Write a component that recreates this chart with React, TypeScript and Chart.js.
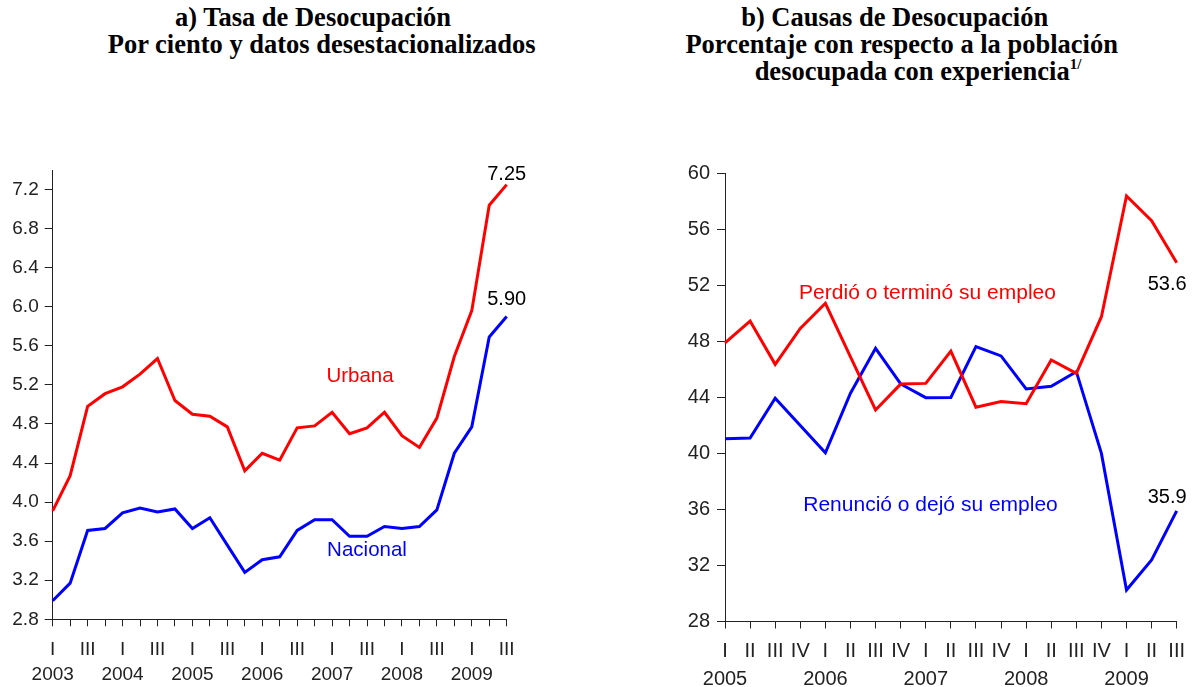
import React, { useEffect, useRef } from 'react';
import { Chart, registerables } from 'chart.js';

Chart.register(...registerables);

// ---------- Data: left chart (Tasa de Desocupación) ----------
const leftYears = ['2003', '2004', '2005', '2006', '2007', '2008', '2009'];
const leftQuarterMarks = ['I', '', 'III', ''];
const urbana = [3.91, 4.27, 4.98, 5.11, 5.18, 5.31, 5.47, 5.04, 4.9, 4.88, 4.77, 4.32, 4.5, 4.43, 4.76, 4.78, 4.92, 4.7, 4.76, 4.92, 4.68, 4.56, 4.86, 5.49, 5.96, 7.04, 7.25];
const nacional = [2.99, 3.17, 3.71, 3.73, 3.89, 3.94, 3.9, 3.93, 3.73, 3.84, 3.56, 3.28, 3.41, 3.44, 3.71, 3.82, 3.82, 3.65, 3.65, 3.75, 3.73, 3.75, 3.92, 4.5, 4.77, 5.69, 5.9];
const leftYTicks = [2.8, 3.2, 3.6, 4.0, 4.4, 4.8, 5.2, 5.6, 6.0, 6.4, 6.8, 7.2];

// ---------- Data: right chart (Causas de Desocupación) ----------
const rightYears = ['2005', '2006', '2007', '2008', '2009'];
const rightQuarterMarks = ['I', 'II', 'III', 'IV'];
const perdio = [47.9, 49.45, 46.36, 48.93, 50.72, 46.9, 43.1, 44.95, 45.0, 47.3, 43.3, 43.7, 43.55, 46.67, 45.72, 49.76, 58.38, 56.62, 53.62];
const renuncio = [41.05, 41.1, 43.94, 42.0, 40.05, 44.3, 47.5, 44.96, 43.98, 44.0, 47.62, 46.96, 44.6, 44.8, 45.84, 40.0, 30.25, 32.4, 35.9];
const rightYTicks = [28, 32, 36, 40, 44, 48, 52, 56, 60];

const RED = '#ff0000';
const BLUE = '#0000ff';
const INK = '#222222';
const SANS = "'Liberation Sans', Arial, Helvetica, sans-serif";
const SERIF = "'Liberation Serif', 'Times New Roman', Times, serif";

function makeLabels(count: number, marks: string[], years: string[]) {
  const out: string[][] = [];
  for (let i = 0; i < count; i++) {
    const q = i % 4;
    out.push([marks[q], q === 0 ? years[i / 4] : '']);
  }
  return out;
}

type Note = { text: string; xi: number; yv: number; color: string; size: number };

function notesPlugin(items: Note[]) {
  return {
    id: 'notes',
    afterDatasetsDraw(chart: any) {
      const { ctx, scales } = chart;
      const x = scales.x;
      const y = scales.y;
      ctx.save();
      for (const n of items) {
        ctx.font = `${n.size}px ${SANS}`;
        ctx.fillStyle = n.color;
        ctx.textAlign = 'center';
        ctx.textBaseline = 'middle';
        ctx.fillText(n.text, x.getPixelForValue(n.xi), y.getPixelForValue(n.yv));
      }
      ctx.restore();
    },
  };
}

interface PanelProps {
  labels: string[][];
  series: { data: number[]; color: string }[];
  yMin: number;
  yMax: number;
  yTicks: number[];
  yFmt: (v: number) => string;
  padTop: number;
  padRight: number;
  yWidth: number;
  xHeight: number;
  xPad: number;
  xLineHeight: number;
  yPad: number;
  fontSize: number;
  notes: Note[];
  left: number;
  width: number;
}

function Panel(p: PanelProps) {
  const ref = useRef<HTMLCanvasElement | null>(null);
  useEffect(() => {
    if (!ref.current) return;
    const chart = new Chart(ref.current, {
      type: 'line',
      data: {
        labels: p.labels as any,
        datasets: p.series.map((s) => ({
          data: s.data,
          borderColor: s.color,
          backgroundColor: s.color,
          borderWidth: 3,
          pointRadius: 0,
          pointHoverRadius: 0,
          tension: 0,
          fill: false,
        })),
      },
      options: {
        animation: false,
        responsive: false,
        maintainAspectRatio: false,
        events: [],
        layout: { padding: { top: p.padTop, right: p.padRight, left: 0, bottom: 0 } },
        plugins: {
          legend: { display: false },
          tooltip: { enabled: false },
          title: { display: false },
        },
        scales: {
          x: {
            type: 'category',
            offset: false,
            grid: { drawOnChartArea: false, drawTicks: true, tickLength: 7, color: INK, lineWidth: 1 },
            border: { display: true, color: INK, width: 1 },
            ticks: {
              autoSkip: false,
              maxRotation: 0,
              minRotation: 0,
              padding: p.xPad,
              color: INK,
              font: { family: SANS, size: p.fontSize, lineHeight: p.xLineHeight / p.fontSize },
            },
            afterFit: (s: any) => {
              s.height = p.xHeight;
            },
          },
          y: {
            type: 'linear',
            min: p.yMin,
            max: p.yMax,
            afterBuildTicks: (s: any) => {
              s.ticks = p.yTicks.map((v) => ({ value: v }));
            },
            grid: { drawOnChartArea: false, drawTicks: true, tickLength: 8, color: INK, lineWidth: 1 },
            border: { display: true, color: INK, width: 1 },
            ticks: {
              padding: p.yPad,
              color: INK,
              font: { family: SANS, size: p.fontSize },
              callback: (v: any) => p.yFmt(Number(v)),
            },
            afterFit: (s: any) => {
              s.width = p.yWidth;
            },
          },
        },
      },
      plugins: [notesPlugin(p.notes)],
    } as any);
    return () => chart.destroy();
  }, []);
  return (
    <canvas
      ref={ref}
      width={p.width}
      height={687}
      style={{ position: 'absolute', left: p.left, top: 0, width: p.width, height: 687 }}
    />
  );
}

function TitleLine({ cx, top, children }: { cx: number; top: number; children: React.ReactNode }) {
  return (
    <div
      style={{
        position: 'absolute',
        left: cx - 350,
        width: 700,
        top,
        textAlign: 'center',
        fontFamily: SERIF,
        fontWeight: 'bold',
        fontSize: '26.5px',
        lineHeight: '27px',
        whiteSpace: 'nowrap',
        color: '#000',
      }}
    >
      {children}
    </div>
  );
}

export default function App() {
  const leftLabels = makeLabels(urbana.length, leftQuarterMarks, leftYears);
  const rightLabels = makeLabels(perdio.length, rightQuarterMarks, rightYears);

  const leftNotes: Note[] = [
    { text: 'Urbana', xi: 17.6, yv: 5.29, color: RED, size: 20.5 },
    { text: 'Nacional', xi: 18.0, yv: 3.51, color: BLUE, size: 20.5 },
    { text: '7.25', xi: 26, yv: 7.355, color: '#000', size: 20 },
    { text: '5.90', xi: 26, yv: 6.07, color: '#000', size: 20 },
  ];
  const rightNotes: Note[] = [
    { text: 'Perdió o terminó su empleo', xi: 8.07, yv: 51.45, color: RED, size: 21 },
    { text: 'Renunció o dejó su empleo', xi: 8.19, yv: 36.32, color: BLUE, size: 21 },
    { text: '53.6', xi: 17.62, yv: 52.03, color: '#000', size: 20 },
    { text: '35.9', xi: 17.62, yv: 36.89, color: '#000', size: 20 },
  ];

  return (
    <div
      style={{
        position: 'absolute',
        left: 0,
        top: 0,
        width: 1196,
        height: 687,
        overflow: 'hidden',
        background: '#fff',
      }}
    >
      <TitleLine cx={313} top={3.6}>a) Tasa de Desocupación</TitleLine>
      <TitleLine cx={321.7} top={31.1}>Por ciento y datos desestacionalizados</TitleLine>
      <TitleLine cx={894.7} top={3.6}>b) Causas de Desocupación</TitleLine>
      <TitleLine cx={901.7} top={31.1}>Porcentaje con respecto a la población</TitleLine>
      <TitleLine cx={918} top={58.1}>
        desocupada con experiencia
        <span style={{ fontSize: '15px', position: 'relative', top: '-11px' }}>1/</span>
      </TitleLine>

      <Panel
        labels={leftLabels}
        series={[
          { data: urbana, color: RED },
          { data: nacional, color: BLUE },
        ]}
        yMin={2.8}
        yMax={7.4}
        yTicks={leftYTicks}
        yFmt={(v) => v.toFixed(1)}
        padTop={170}
        padRight={598 - 506.7}
        yWidth={52.7}
        xHeight={687 - 619.3}
        xPad={11}
        xLineHeight={25}
        yPad={6}
        fontSize={19}
        notes={leftNotes}
        left={0}
        width={598}
      />
      <Panel
        labels={rightLabels}
        series={[
          { data: perdio, color: RED },
          { data: renuncio, color: BLUE },
        ]}
        yMin={28}
        yMax={60}
        yTicks={rightYTicks}
        yFmt={(v) => String(Math.round(v))}
        padTop={173.3}
        padRight={1196 - 1176.7}
        yWidth={725 - 598}
        xHeight={687 - 621.5}
        xPad={8.7}
        xLineHeight={28}
        yPad={7}
        fontSize={20}
        notes={rightNotes}
        left={598}
        width={598}
      />
    </div>
  );
}
